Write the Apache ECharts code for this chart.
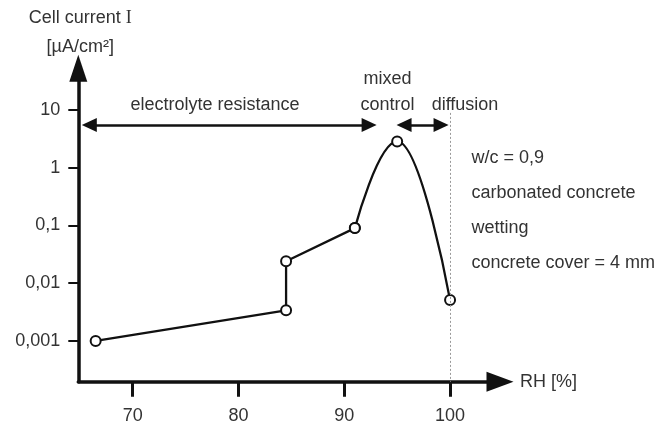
<!DOCTYPE html>
<html>
<head>
<meta charset="utf-8">
<script src="https://cdn.jsdelivr.net/npm/echarts@6/dist/echarts.min.js"></script>
<style>
  html, body { margin: 0; padding: 0; background: #fff; }
  #chart { width: 668px; height: 425px; }
</style>
</head>
<body>
<div id="chart"></div>
<script>
// measured points (RH %, cell current µA/cm²)
const rh = [66.5, 84.5, 84.5, 91, 95, 100];
const cellCurrent = [0.001, 0.0034, 0.024, 0.09, 2.85, 0.0051];

const xTicks = [70, 80, 90, 100];
const yTicks = [0.001, 0.01, 0.1, 1, 10];
const yTickLabels = ['0,001', '0,01', '0,1', '1', '10'];

// regime arrows (RH from / to, arrow head centres) and their height
const regimeArrows = [[65.9, 92.35], [95.65, 99.15]];
const arrowLevel = 5.5;
const diffusionLimit = 100;
const diffusionTop = 8.9;

const notes = ['w/c = 0,9', 'carbonated concrete', 'wetting', 'concrete cover = 4 mm'];

const FONT = "'Liberation Sans', Arial, sans-serif";
const TEXT = '#333';
const INK = '#111';

const xMin = 64.86, xMax = 104.72;
const yMin = 0.000197, yMax = 52.7;

const points = rh.map((x, i) => [x, cellCurrent[i]]);
const straightPart = points.slice(0, 4);
const peakPart = points.slice(3);

const chart = echarts.init(document.getElementById('chart'));

const markerStyle = {
  symbol: 'emptyCircle',
  symbolSize: 10,
  itemStyle: { color: INK, borderColor: INK, borderWidth: 2 },
  lineStyle: { color: INK, width: 2.3 },
};

const arrowLines = regimeArrows.map(([a, b]) => [
  { coord: [a, arrowLevel] },
  { coord: [b, arrowLevel] },
]);

const option = {
  animation: false,
  backgroundColor: '#fff',
  textStyle: { fontFamily: FONT },
  grid: { left: 78.3, right: 168, top: 68.3, bottom: 43.3 },
  xAxis: {
    type: 'value',
    min: xMin,
    max: xMax,
    splitLine: { show: false },
    name: 'RH [%]',
    nameLocation: 'end',
    nameGap: 20,
    nameTextStyle: { fontSize: 18, color: TEXT, fontFamily: FONT },
    axisLine: {
      onZero: false,
      lineStyle: { color: INK, width: 3.5 },
      symbol: ['none', 'triangle'],
      symbolSize: [20, 27],
    },
    axisTick: {
      customValues: xTicks,
      length: 15,
      lineStyle: { color: INK, width: 3 },
    },
    axisLabel: {
      customValues: xTicks,
      margin: 25,
      fontSize: 18,
      color: TEXT,
      fontFamily: FONT,
    },
  },
  yAxis: {
    type: 'log',
    logBase: 10,
    min: yMin,
    max: yMax,
    splitLine: { show: false },
    name: 'Cell current {i|I}\n[µA/cm²]',
    nameLocation: 'end',
    nameGap: 7,
    nameTextStyle: {
      fontSize: 18,
      lineHeight: 29,
      color: TEXT,
      fontFamily: FONT,
      align: 'center',
      padding: [0, 0, 0, 4],
      rich: {
        i: { fontFamily: "'Liberation Serif', serif", fontSize: 18, lineHeight: 29, color: TEXT },
      },
    },
    axisLine: {
      onZero: false,
      lineStyle: { color: INK, width: 3.5 },
      symbol: ['none', 'triangle'],
      symbolSize: [18, 27],
    },
    axisTick: {
      customValues: yTicks,
      length: 10,
      lineStyle: { color: INK, width: 2 },
    },
    axisLabel: {
      customValues: yTicks,
      margin: 18,
      fontSize: 18,
      color: TEXT,
      fontFamily: FONT,
      formatter: (v) => {
        const i = yTicks.findIndex((t) => Math.abs(Math.log10(t) - Math.log10(v)) < 0.01);
        return i >= 0 ? yTickLabels[i] : '';
      },
    },
  },
  series: [
    Object.assign({ type: 'line', data: straightPart, smooth: false, z: 3 }, markerStyle),
    Object.assign({ type: 'line', data: peakPart, smooth: 0.45, smoothMonotone: 'x', z: 3 }, markerStyle),
    {
      type: 'line',
      data: [],
      markLine: {
        silent: true,
        animation: false,
        label: { show: false },
        symbol: ['triangle', 'triangle'],
        symbolSize: [14, 15],
        lineStyle: { color: INK, width: 2.5, type: 'solid' },
        data: arrowLines.concat([
          [
            { coord: [diffusionLimit, diffusionTop], symbol: 'none', lineStyle: { color: '#999', width: 1, type: [2, 2] } },
            { coord: [diffusionLimit, yMin], symbol: 'none' },
          ],
        ]),
      },
    },
  ],
  graphic: [
    { type: 'text', x: 215, y: 105.4, style: { text: 'electrolyte resistance', font: '18px ' + FONT, fill: TEXT, align: 'center', verticalAlign: 'middle' } },
    { type: 'text', x: 387.5, y: 78.7, style: { text: 'mixed', font: '18px ' + FONT, fill: TEXT, align: 'center', verticalAlign: 'middle' } },
    { type: 'text', x: 387.5, y: 105.4, style: { text: 'control', font: '18px ' + FONT, fill: TEXT, align: 'center', verticalAlign: 'middle' } },
    { type: 'text', x: 465, y: 105.4, style: { text: 'diffusion', font: '18px ' + FONT, fill: TEXT, align: 'center', verticalAlign: 'middle' } },
  ].concat(notes.map((t, i) => ({
    type: 'text',
    x: 471.5,
    y: 158 + i * 35,
    style: { text: t, font: '18px ' + FONT, fill: TEXT, align: 'left', verticalAlign: 'middle' },
  }))),
};

chart.setOption(option);
</script>
</body>
</html>
